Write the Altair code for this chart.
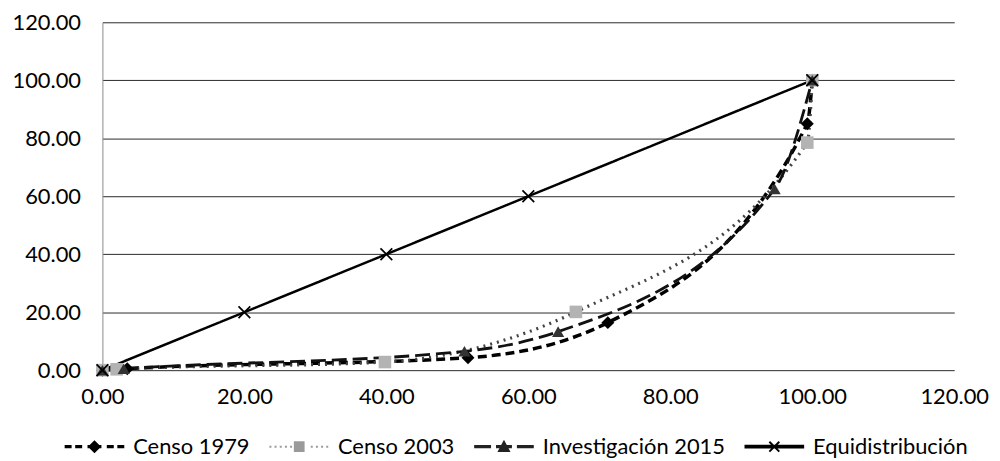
import altair as alt
import pandas as pd

# ---------------- data ----------------
series_names = ["Censo 1979", "Censo 2003", "Investigación 2015", "Equidistribución"]

c79_x = [0, 3.5, 51.5, 71.2, 99.3, 100]
c79_y = [0, 0.5, 4.3, 16.4, 85.0, 100]

c03_x = [0, 2.0, 39.8, 66.7, 99.3, 100]
c03_y = [0, 0.3, 2.8, 20.1, 78.5, 100]

i15_x = [0, 3.0, 51.0, 64.2, 94.7, 100]
i15_y = [0, 0.5, 6.5, 13.3, 62.5, 100]

eq_x = [0, 20, 40, 60, 100]
eq_y = [0, 20, 40, 60, 100]

tick_values = [0, 20, 40, 60, 80, 100, 120]

rows = []
for name, xs, ys in zip(series_names, [c79_x, c03_x, i15_x, eq_x], [c79_y, c03_y, i15_y, eq_y]):
    for xv, yv in zip(xs, ys):
        rows.append({"series": name, "x": xv, "y": yv})
df = pd.DataFrame(rows)

# ---------------- styling ----------------
FONT = "Lato"
line_colors = ["#000000", "#444444", "#111111", "#000000"]
line_dashes = [[9, 5], [2, 5], [15, 6], [1, 0]]
line_widths = [3.5, 2.5, 3.5, 4]

point_colors = ["#000000", "#b3b3b3", "#333333", "#000000"]
x_marker = ("M-0.9,-1.1L1.1,0.9L0.9,1.1L-1.1,-0.9Z"
            "M-0.9,1.1L-1.1,0.9L0.9,-1.1L1.1,-0.9Z")
point_shapes = ["diamond", "square", "triangle-up", x_marker]
point_sizes = [170, 140, 200, 240]


def rect(x0, x1, h=0.8):
    return f"M{x0},{-h}H{x1}V{h}H{x0}Z"


def dashes(start, end, dash, gap, skip_lo, skip_hi, h=0.8):
    out = ""
    pos = start
    while pos < end:
        a, b = pos, min(pos + dash, end)
        if b <= skip_lo or a >= skip_hi:
            out += rect(round(a, 2), round(b, 2), h)
        pos += dash + gap
    return out


cx = 14.0
diamond = f"M{cx},-3.3L{cx + 3.3},0L{cx},3.3L{cx - 3.3},0Z"
square = f"M{cx - 2.7},-2.7H{cx + 2.7}V2.7H{cx - 2.7}Z"
triangle = f"M{cx},-3.5L{cx + 3.3},2.7L{cx - 3.3},2.7Z"
xm = (f"M{cx - 2.15},-2.85L{cx + 2.85},2.15L{cx + 2.15},2.85L{cx - 2.85},-2.15Z"
      f"M{cx - 2.15},2.85L{cx - 2.85},2.15L{cx + 2.15},-2.85L{cx + 2.85},-2.15Z")

legend_paths = [
    dashes(-1, 29, 3.5, 1.8, 10.5, 17.5) + rect(10.5, 17.5) + diamond,
    dashes(-1, 29, 1.0, 1.6, 10.5, 17.5, 0.5) + square,
    rect(-1, 7.5) + rect(20.5, 29) + rect(10, 18) + triangle,
    rect(-1, 29, 0.95) + xm,
]
legend_colors = ["#000000", "#9a9a9a", "#222222", "#000000"]

scale_x = alt.Scale(domain=[0, 120], nice=False, zero=True)
scale_y = alt.Scale(domain=[0, 120], nice=False, zero=True)

x_enc = alt.X("x:Q", scale=scale_x,
              axis=alt.Axis(values=tick_values, format=".2f", title=None, grid=False,
                            ticks=False, domain=False, labelPadding=17, labelFlush=False))
y_enc = alt.Y("y:Q", scale=scale_y,
              axis=alt.Axis(values=tick_values, format=".2f", title=None, grid=True,
                            gridColor="#2a2a2a", gridWidth=1, ticks=False,
                            domain=True, domainColor="#8a8a8a", domainWidth=1,
                            labelPadding=22, labelFlush=False))

base = alt.Chart(df)

lines = base.mark_line(interpolate="monotone").encode(
    x=x_enc,
    y=y_enc,
    detail="series:N",
    color=alt.Color("series:N", scale=alt.Scale(domain=series_names, range=line_colors), legend=None),
    strokeDash=alt.StrokeDash("series:N", scale=alt.Scale(domain=series_names, range=line_dashes), legend=None),
    size=alt.Size("series:N", scale=alt.Scale(domain=series_names, range=line_widths), legend=None),
)

points = base.mark_point(filled=True, opacity=1, strokeWidth=0).encode(
    x=x_enc,
    y=y_enc,
    color=alt.Color("series:N", scale=alt.Scale(domain=series_names, range=point_colors), legend=None),
    shape=alt.Shape("series:N", scale=alt.Scale(domain=series_names, range=point_shapes), legend=None),
    size=alt.Size("series:N", scale=alt.Scale(domain=series_names, range=point_sizes), legend=None),
)

legend_opts = dict(
    title=None,
    orient="none",
    legendX=-47,
    legendY=416,
    direction="horizontal",
    labelFont=FONT,
    labelFontSize=22,
    labelColor="#000000",
    labelOffset=56,
    labelLimit=0,
    columnPadding=10,
    symbolSize=16,
    symbolStrokeWidth=0,
)

legend_layer = base.transform_filter("false").mark_point(filled=True, opacity=1, strokeWidth=0, size=16).encode(
    x=alt.X("x:Q", scale=scale_x),
    y=alt.Y("y:Q", scale=scale_y),
    color=alt.Color("series:N", scale=alt.Scale(domain=series_names, range=legend_colors),
                    legend=alt.Legend(**legend_opts)),
    shape=alt.Shape("series:N", scale=alt.Scale(domain=series_names, range=legend_paths),
                    legend=alt.Legend(**legend_opts)),
)

chart = alt.layer(lines, points, legend_layer).resolve_scale(
    color="independent", shape="independent", size="independent", strokeDash="independent"
).properties(
    width=857,
    height=350,
    autosize=alt.AutoSizeParams(type="none"),
    padding={"left": 95, "top": 13, "right": 38, "bottom": 89},
    background="white",
).configure_axis(
    labelFont=FONT,
    labelFontSize=22,
    labelColor="#000000",
).configure_view(
    strokeOpacity=0,
)

chart.save("out.html", embed_options={"renderer": "svg", "actions": False})
